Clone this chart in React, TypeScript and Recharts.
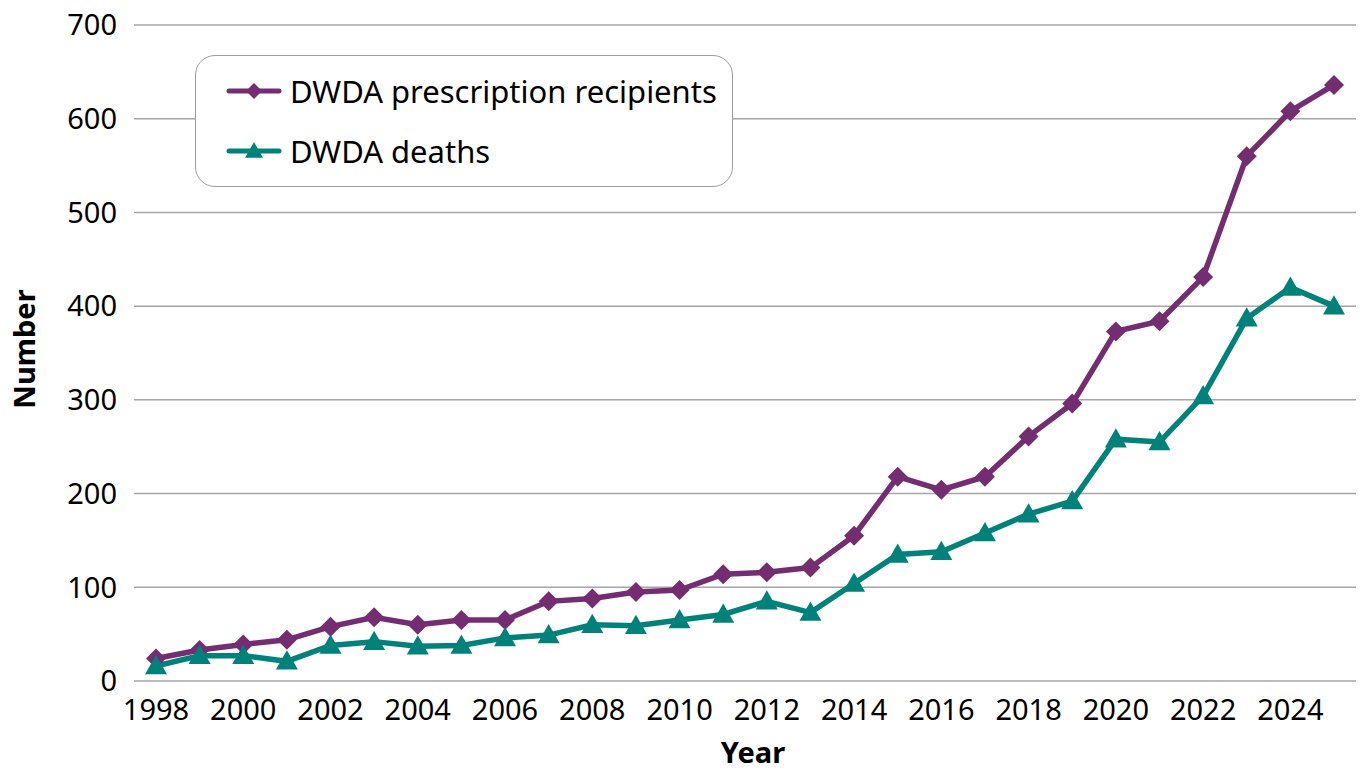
import { CartesianGrid, Label, Legend, Line, LineChart, XAxis, YAxis } from "recharts";

const years = [
  "1998", "1999", "2000", "2001", "2002", "2003", "2004", "2005", "2006", "2007",
  "2008", "2009", "2010", "2011", "2012", "2013", "2014", "2015", "2016", "2017",
  "2018", "2019", "2020", "2021", "2022", "2023", "2024", "2025",
];

const recipients = [
  24, 33, 39, 44, 58, 68, 60, 65, 65, 85,
  88, 95, 97, 114, 116, 121, 155, 218, 204, 218,
  261, 296, 373, 384, 431, 560, 608, 636,
];

const deaths = [
  16, 27, 27, 21, 38, 42, 37, 38, 46, 49,
  60, 59, 65, 71, 85, 73, 104, 135, 138, 158,
  178, 192, 258, 255, 304, 387, 420, 400,
];

const yTicks = [0, 100, 200, 300, 400, 500, 600, 700];

const seriesKeys = ["recipients", "deaths"] as const;
const seriesNames = {
  recipients: "DWDA prescription recipients",
  deaths: "DWDA deaths",
};

const data = years.map((year, i) => ({
  year,
  recipients: recipients[i],
  deaths: deaths[i],
}));

const PURPLE = "#742d70";
const TEAL = "#00827a";
const GRID = "#a6a6a6";
const FONT = "'Noto Sans', sans-serif";

type DotProps = { cx?: number; cy?: number; index?: number };

function Diamond({ cx = 0, cy = 0, fill, r = 10 }: { cx?: number; cy?: number; fill: string; r?: number }) {
  return <path d={`M${cx},${cy - r}L${cx + r},${cy}L${cx},${cy + r}L${cx - r},${cy}Z`} fill={fill} />;
}

function Triangle({ cx = 0, cy = 0, fill, r = 11 }: { cx?: number; cy?: number; fill: string; r?: number }) {
  return (
    <path
      d={`M${cx},${cy - r}L${cx + r},${cy + r * 0.75}L${cx - r},${cy + r * 0.75}Z`}
      fill={fill}
    />
  );
}

function LegendBox() {
  return (
    <div
      style={{
        width: 538,
        height: 132,
        boxSizing: "border-box",
        border: "1.5px solid #9e9e9e",
        borderRadius: 20,
        background: "#fff",
        paddingTop: 5,
        paddingLeft: 30,
        fontFamily: FONT,
      }}
    >
      {seriesKeys.map((key) => {
        const isRecipients = key === "recipients";
        const color = isRecipients ? PURPLE : TEAL;
        return (
          <div key={key} style={{ height: 60, display: "flex", alignItems: "center" }}>
            <svg width={56} height={24} style={{ marginRight: 8 }}>
              <line x1={3} y1={12} x2={53} y2={12} stroke={color} strokeWidth={5} strokeLinecap="round" />
              {isRecipients ? (
                <Diamond cx={28} cy={12} fill={color} r={8} />
              ) : (
                <Triangle cx={28} cy={12} fill={color} r={9} />
              )}
            </svg>
            <span style={{ fontSize: 31, color: "#000", lineHeight: 1 }}>{seriesNames[key]}</span>
          </div>
        );
      })}
    </div>
  );
}

export default function App() {
  const tickStyle = { fontSize: 29, fill: "#000", fontFamily: FONT };

  return (
    <div style={{ position: "absolute", left: 0, top: 0, width: 1362, height: 770, background: "#fff" }}>
      <LineChart width={1362} height={770} data={data} margin={{ top: 25, right: 6, left: 0, bottom: 0 }}>
        <CartesianGrid vertical={false} stroke={GRID} strokeWidth={1.5} />
        <XAxis
          dataKey="year"
          interval={1}
          padding={{ left: 22, right: 22 }}
          axisLine={false}
          tickLine={false}
          tickSize={0}
          tickMargin={18}
          height={89}
          tick={tickStyle}
        >
          <Label
            content={({ viewBox }: any) => (
              <text
                x={viewBox.x + viewBox.width / 2 + 8}
                y={763}
                textAnchor="middle"
                fontFamily={FONT}
                fontSize={29}
                fontWeight="bold"
                fill="#000"
              >
                Year
              </text>
            )}
          />
        </XAxis>
        <YAxis
          domain={[0, 700]}
          ticks={yTicks}
          width={134}
          axisLine={false}
          tickLine={false}
          tickSize={0}
          tickMargin={17}
          tick={tickStyle}
        >
          <Label
            content={({ viewBox }: any) => {
              const cx = viewBox.x + 23;
              const cy = viewBox.y + viewBox.height / 2 - 4;
              return (
                <text
                  x={cx}
                  y={cy}
                  transform={`rotate(-90 ${cx} ${cy})`}
                  textAnchor="middle"
                  dominantBaseline="central"
                  fontFamily={FONT}
                  fontSize={29}
                  fontWeight="bold"
                  fill="#000"
                >
                  Number
                </text>
              );
            }}
          />
        </YAxis>
        <Legend
          layout="vertical"
          align="center"
          verticalAlign="middle"
          content={<LegendBox />}
          wrapperStyle={{ left: 195, top: 55, width: 538, height: 132 }}
        />
        <Line
          dataKey="recipients"
          name={seriesNames.recipients}
          stroke={PURPLE}
          strokeWidth={5.5}
          isAnimationActive={false}
          dot={(p: DotProps) => <Diamond key={`r-${p.index}`} cx={p.cx} cy={p.cy} fill={PURPLE} />}
          activeDot={false}
        />
        <Line
          dataKey="deaths"
          name={seriesNames.deaths}
          stroke={TEAL}
          strokeWidth={5.5}
          isAnimationActive={false}
          dot={(p: DotProps) => <Triangle key={`d-${p.index}`} cx={p.cx} cy={p.cy} fill={TEAL} />}
          activeDot={false}
        />
      </LineChart>
    </div>
  );
}
